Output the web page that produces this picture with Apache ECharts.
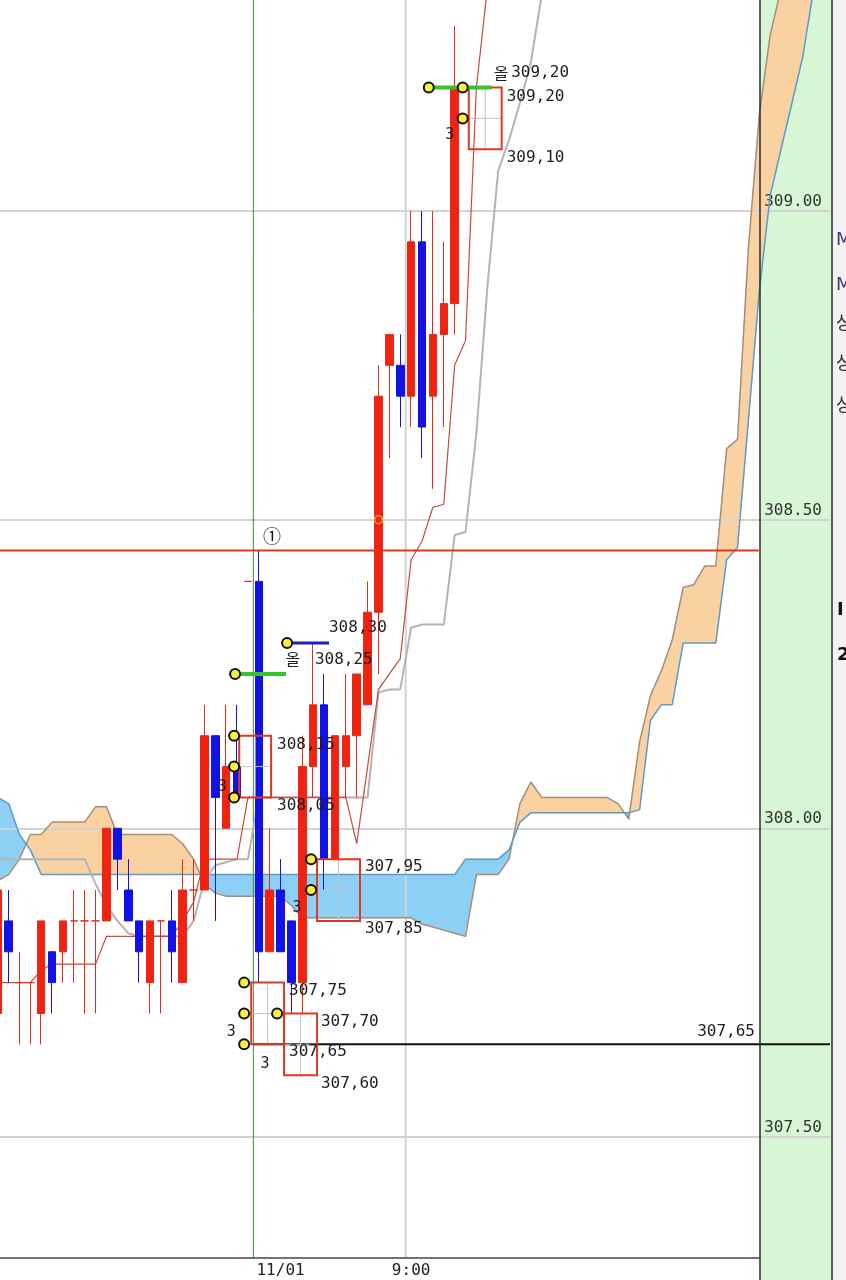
<!DOCTYPE html>
<html>
<head>
<meta charset="utf-8">
<script src="https://cdn.jsdelivr.net/npm/echarts@6/dist/echarts.min.js"></script>
<style>html,body{margin:0;padding:0;background:#fff;overflow:hidden}#c{position:absolute;left:-8px;top:0;width:854px;height:1280px}</style>
</head>
<body>
<div id="c"></div>
<script>
// ---------- DATA ----------
const candleOpen  = [307.70,307.85,307.75,307.75,307.70,307.80,307.80,307.85,307.85,307.85,307.85,308.00,307.90,307.85,307.75,307.85,307.85,307.75,307.90,307.90,308.15,308.00,308.10,308.40,308.40,307.80,307.90,307.85,307.75,308.10,308.20,307.95,308.10,308.15,308.20,308.35,308.75,308.75,308.70,308.95,308.70,308.80,308.85];
const candleClose = [307.90,307.80,307.75,307.75,307.85,307.75,307.85,307.85,307.85,307.85,308.00,307.95,307.85,307.80,307.85,307.85,307.80,307.90,307.90,308.15,308.05,308.10,308.05,308.40,307.80,307.90,307.80,307.75,308.10,308.20,307.95,308.15,308.15,308.25,308.35,308.70,308.80,308.70,308.95,308.65,308.80,308.85,309.20];
const candleLow   = [307.70,307.75,307.65,307.65,307.65,307.70,307.75,307.75,307.70,307.70,307.85,307.90,307.85,307.75,307.70,307.70,307.75,307.75,307.85,307.90,307.85,308.00,308.05,308.40,307.75,307.80,307.80,307.70,307.70,308.05,307.90,307.95,308.05,308.05,308.20,308.25,308.60,308.65,308.65,308.60,308.55,308.65,308.80];
const candleHigh  = [307.90,307.90,307.80,307.75,307.85,307.80,307.85,307.90,307.90,307.90,308.00,308.00,307.95,307.85,307.85,307.85,307.90,307.95,307.95,308.20,308.15,308.20,308.20,308.40,308.45,308.00,307.95,307.85,308.15,308.30,308.25,308.15,308.25,308.25,308.40,308.75,308.80,308.80,309.00,309.00,309.00,308.95,309.30];

const tenkan = [307.75,307.75,307.75,307.75,307.77,307.78,307.78,307.78,307.78,307.78,307.825,307.825,307.825,307.825,307.825,307.825,307.825,307.85,307.88,307.95,307.95,307.95,307.95,308.05,308.05,308.05,308.05,308.05,308.05,308.05,308.05,308.05,308.05,307.975,308.10,308.225,308.25,308.275,308.435,308.465,308.52,308.525,308.75,308.79,309.20,309.36];
const kijun = [307.95,307.95,307.95,307.95,307.95,307.95,307.95,307.95,307.95,307.91,307.875,307.85,307.83,307.825,307.825,307.825,307.825,307.825,307.85,307.915,307.94,307.945,307.95,307.95,308.05,308.05,308.05,308.05,308.05,308.05,308.05,308.05,308.05,308.05,308.05,308.22,308.225,308.225,308.325,308.33,308.33,308.33,308.475,308.48,308.64,308.875,309.065,309.115,309.175,309.24,309.35];

const spanA = [307.915,307.925,307.95,307.99,307.99,308.01,308.01,308.01,308.01,308.035,308.035,307.99,307.99,307.99,307.99,307.99,307.99,307.975,307.95,307.91,307.895,307.89,307.89,307.89,307.89,307.89,307.89,307.875,307.855,307.855,307.855,307.855,307.855,307.855,307.855,307.855,307.855,307.855,307.855,307.845,307.84,307.835,307.83,307.825,307.925,307.925,307.925,307.95,308.04,308.075,308.05,308.05,308.05,308.05,308.05,308.05,308.05,308.04,308.015,308.14,308.215,308.255,308.305,308.39,308.395,308.425,308.425,308.615,308.63,308.94,309.155,309.285,309.36,309.41,309.45,309.50,309.55];
const spanB = [308.05,308.04,307.99,307.965,307.925,307.925,307.925,307.925,307.925,307.925,307.925,307.925,307.925,307.925,307.925,307.925,307.925,307.925,307.925,307.925,307.925,307.925,307.925,307.925,307.925,307.925,307.925,307.925,307.925,307.925,307.925,307.925,307.925,307.925,307.925,307.925,307.925,307.925,307.925,307.925,307.925,307.925,307.925,307.95,307.95,307.95,307.95,307.965,308.01,308.025,308.025,308.025,308.025,308.025,308.025,308.025,308.025,308.025,308.025,308.03,308.175,308.20,308.20,308.30,308.30,308.30,308.30,308.435,308.455,308.66,308.87,309.025,309.10,309.175,309.25,309.36,309.41];

const xTickLabels = ['11/01', '9:00'];
const xTickIndex  = [26, 38];

// ---------- ANNOTATIONS (data units: category index, price) ----------
const resistanceLevel = 308.45;
const supportLevel = 307.65;
const sessionBreaks = [23.5, 37.5];
const boxes = [[22.2,25.13,308.15,308.05],[29.35,33.3,307.95,307.85],[23.3,26.32,307.75,307.65],[26.32,29.35,307.70,307.60],[43.3,46.32,309.20,309.10]];
const markers = [[21.73,308.15],[21.73,308.10],[21.73,308.05],[21.82,308.25],[26.6,308.30],[28.8,307.95],[28.8,307.90],[22.65,307.75],[22.65,307.70],[22.65,307.65],[25.68,307.70],[39.62,309.20],[42.74,309.20],[42.74,309.15]];
const greenSegs = [[21.82,26.5,308.25],[39.4,45.4,309.20]];
const blueSegs = [[26.6,30.45,308.30]];
const priceTexts = [[30.45,308.3245,'308,30'],[29.16,308.2726,'308,25'],[25.68,308.135,'308,15'],[25.68,308.036,'308,05'],[33.75,307.937,'307,95'],[33.75,307.837,'307,85'],[26.78,307.736,'307,75'],[29.71,307.686,'307,70'],[26.78,307.638,'307,65'],[29.71,307.586,'307,60'],[46.78,309.185,'309,20'],[46.78,309.086,'309,10'],[47.2,309.224,'309,20']];
const countTexts = [[20.63,308.067,'3'],[27.51,307.871,'3'],[21.46,307.670,'3'],[24.58,307.618,'3'],[41.55,309.123,'3']];

// ---------- BUILD ----------
const OFF = 8; // chart container is shifted 8px left so the first candle is cut at the edge
const N = 77;
const yMin = 307.3039, yMax = 309.3418;
const categories = Array.from({length: N}, (_, i) => 'c' + i);
const candleData = categories.map((_, i) => i < candleOpen.length ? [candleOpen[i], candleClose[i], candleLow[i], candleHigh[i]] : '-');
const pad = arr => categories.map((_, i) => i < arr.length ? arr[i] : null);
const cloudData = [];
for (let i = 0; i < N - 1; i++) cloudData.push([i, spanA[i], spanB[i], spanA[i+1], spanB[i+1]]);

const ORANGE = '#fad2a2', BLUE = '#8dd0f6';
const MONO = '"DejaVu Sans Mono", monospace';

function renderCloud(params, api) {
  const i = api.value(0), a0 = api.value(1), b0 = api.value(2), a1 = api.value(3), b1 = api.value(4);
  const p = (x, y) => api.coord([x, y]);
  const d0 = a0 - b0, d1 = a1 - b1;
  const ch = [];
  const poly = (pts, c) => ch.push({type: 'polygon', shape: {points: pts}, style: {fill: c, stroke: c, lineWidth: 0.6}});
  if (d0 * d1 >= 0) {
    poly([p(i, a0), p(i + 1, a1), p(i + 1, b1), p(i, b0)], (d0 + d1) >= 0 ? ORANGE : BLUE);
  } else {
    const t = d0 / (d0 - d1);
    const xm = i + t, ym = a0 + (a1 - a0) * t;
    poly([p(i, a0), p(xm, ym), p(i, b0)], d0 > 0 ? ORANGE : BLUE);
    poly([p(xm, ym), p(i + 1, a1), p(i + 1, b1)], d1 > 0 ? ORANGE : BLUE);
  }
  return {type: 'group', children: ch};
}

function renderGuides(params, api) {
  const ch = [];
  sessionBreaks.forEach((x, k) => {
    const a = api.coord([x, yMax]), b = api.coord([x, yMin]);
    ch.push({type: 'line', shape: {x1: a[0], y1: a[1], x2: b[0], y2: b[1]},
      style: {stroke: k === 0 ? '#3d8a3d' : '#d2d2d2', lineWidth: k === 0 ? 1 : 2}});
  });
  return {type: 'group', children: ch};
}

function renderAnno(params, api) {
  const ch = [];
  const line = (x1, x2, v, stroke, w) => {
    const a = api.coord([x1, v]), b = api.coord([x2, v]);
    ch.push({type: 'line', shape: {x1: a[0], y1: a[1], x2: b[0], y2: b[1]}, style: {stroke, lineWidth: w}});
  };
  line(-0.5, 69.95, resistanceLevel, '#e8321e', 2);
  line(sessionBreaks[0], 76.5, supportLevel, '#111', 2);
  boxes.forEach(([x0, x1, top, bot]) => {
    const a = api.coord([x0, top]), b = api.coord([x1, bot]);
    const mx = (a[0] + b[0]) / 2, my = (a[1] + b[1]) / 2;
    ch.push({type: 'line', shape: {x1: a[0], y1: my, x2: b[0], y2: my}, style: {stroke: '#c4c4c4', lineWidth: 1}});
    ch.push({type: 'line', shape: {x1: mx, y1: a[1], x2: mx, y2: b[1]}, style: {stroke: '#c4c4c4', lineWidth: 1}});
    ch.push({type: 'rect', shape: {x: a[0], y: a[1], width: b[0] - a[0], height: b[1] - a[1]}, style: {fill: null, stroke: '#d93a26', lineWidth: 2}});
  });
  greenSegs.forEach(([x0, x1, v]) => line(x0, x1, v, '#38c428', 4));
  blueSegs.forEach(([x0, x1, v]) => line(x0, x1, v, '#1c1cc8', 3));
  markers.forEach(([x, v]) => {
    const c = api.coord([x, v]);
    ch.push({type: 'circle', shape: {cx: c[0], cy: c[1], r: 5}, style: {fill: '#f8f040', stroke: '#111', lineWidth: 2}});
  });
  const oc = api.coord([35, 308.50]);
  ch.push({type: 'circle', shape: {cx: oc[0], cy: oc[1], r: 4}, style: {fill: null, stroke: '#f5a623', lineWidth: 1.5}});
  priceTexts.forEach(([x, v, t]) => {
    const c = api.coord([x, v]);
    ch.push({type: 'text', x: c[0], y: c[1], style: {text: t, font: '16px ' + MONO, fill: '#1e1e1e', align: 'left', verticalAlign: 'middle'}});
  });
  countTexts.forEach(([x, v, t]) => {
    const c = api.coord([x, v]);
    ch.push({type: 'text', x: c[0], y: c[1], style: {text: t, font: '15px ' + MONO, fill: '#1e1e1e', align: 'center', verticalAlign: 'middle'}});
  });
  const k1 = api.coord([45.6, 309.224]);
  ch.push({type: 'text', x: k1[0], y: k1[1], style: {text: '올', font: '16px "Noto Sans CJK KR"', fill: '#1e1e1e', align: 'left', verticalAlign: 'middle'}});
  const k2 = api.coord([27.14, 308.274]);
  ch.push({type: 'text', x: k2[0], y: k2[1], style: {text: '올', font: '16px "Noto Sans CJK KR"', fill: '#1e1e1e', align: 'center', verticalAlign: 'middle'}});
  const c1 = api.coord([25.22, 308.4735]);
  ch.push({type: 'text', x: c1[0], y: c1[1], style: {text: '①', font: '18px "Noto Sans CJK KR"', fill: '#111', align: 'center', verticalAlign: 'middle'}});
  const sl = api.coord([69.6, 307.67]);
  ch.push({type: 'text', x: sl[0], y: sl[1], style: {text: '307,65', font: '16px ' + MONO, fill: '#1e1e1e', align: 'right', verticalAlign: 'middle'}});
  return {type: 'group', children: ch};
}

const chart = echarts.init(document.getElementById('c'));
chart.setOption({
  animation: false,
  backgroundColor: '#ffffff',
  grid: {left: 0.26, right: 16, top: 0, bottom: 22, containLabel: false},
  xAxis: [{
    type: 'category', data: categories, boundaryGap: true,
    axisLine: {show: false}, axisTick: {show: false}, splitLine: {show: false},
    axisLabel: {interval: 0, margin: 5, fontSize: 16, fontFamily: 'DejaVu Sans Mono', color: '#222',
      formatter: (v, idx) => { const j = xTickIndex.indexOf(idx); return j < 0 ? '' : xTickLabels[j]; }}
  }, {
    type: 'value', min: -0.5, max: N - 0.5, show: false
  }],
  yAxis: [{
    type: 'value', position: 'right', min: yMin, max: yMax, scale: true, z: 2,
    axisLine: {show: false}, axisTick: {show: false},
    splitLine: {show: true, showMinLine: false, showMaxLine: false, lineStyle: {color: '#d3d3d3', width: 2}},
    axisLabel: {inside: true, margin: 8, showMinLabel: false, showMaxLabel: false, fontSize: 16, fontFamily: 'DejaVu Sans Mono',
      color: '#333', verticalAlign: 'bottom', padding: [0, 0, 1, 0], formatter: v => v.toFixed(2)}
  }],
  graphic: [
    {type: 'rect', z: -1, silent: true, shape: {x: 760 + OFF, y: 0, width: 72, height: 1280}, style: {fill: '#d6f6d6'}},
    {type: 'rect', z: -1, silent: true, shape: {x: 832 + OFF, y: 0, width: 14, height: 1280}, style: {fill: '#f2f2f2'}},
    {type: 'line', z: 100, silent: true, shape: {x1: 760 + OFF, y1: 0, x2: 760 + OFF, y2: 1280}, style: {stroke: '#2a2a2a', lineWidth: 1.5}},
    {type: 'line', z: 100, silent: true, shape: {x1: 832 + OFF, y1: 0, x2: 832 + OFF, y2: 1280}, style: {stroke: '#2a2a2a', lineWidth: 1.5}},
    {type: 'line', z: 100, silent: true, shape: {x1: 0, y1: 1258, x2: 760 + OFF, y2: 1258}, style: {stroke: '#444', lineWidth: 1.5}},
    {type: 'text', z: 100, x: 836 + OFF, y: 240, style: {text: 'M', font: '18px "DejaVu Sans"', fill: '#3a3a78', verticalAlign: 'middle'}},
    {type: 'text', z: 100, x: 836 + OFF, y: 285, style: {text: 'M', font: '18px "DejaVu Sans"', fill: '#3a3a78', verticalAlign: 'middle'}},
    {type: 'text', z: 100, x: 836 + OFF, y: 322, style: {text: '상', font: '18px "Noto Sans CJK KR"', fill: '#333', verticalAlign: 'middle'}},
    {type: 'text', z: 100, x: 836 + OFF, y: 362, style: {text: '상', font: '18px "Noto Sans CJK KR"', fill: '#333', verticalAlign: 'middle'}},
    {type: 'text', z: 100, x: 836 + OFF, y: 404, style: {text: '상', font: '18px "Noto Sans CJK KR"', fill: '#333', verticalAlign: 'middle'}},
    {type: 'text', z: 100, x: 837 + OFF, y: 610, style: {text: 'I', font: 'bold 18px "DejaVu Sans"', fill: '#111', verticalAlign: 'middle'}},
    {type: 'text', z: 100, x: 837 + OFF, y: 655, style: {text: '2', font: 'bold 18px "DejaVu Sans"', fill: '#111', verticalAlign: 'middle'}}
  ],
  series: [
    {type: 'custom', name: 'cloud', xAxisIndex: 1, yAxisIndex: 0, z: 1, clip: true,
      data: cloudData, encode: {x: 0, y: [1, 2]}, renderItem: renderCloud, silent: true},
    {type: 'custom', name: 'guides', xAxisIndex: 1, yAxisIndex: 0, z: 2,
      data: [[0, 308]], encode: {x: 0, y: 1}, renderItem: renderGuides, silent: true},
    {type: 'line', name: 'spanA', xAxisIndex: 0, z: 3, data: pad(spanA), symbol: 'none',
      lineStyle: {color: '#a48f7a', width: 1.5}},
    {type: 'line', name: 'spanB', xAxisIndex: 0, z: 3, data: pad(spanB), symbol: 'none',
      lineStyle: {color: '#5b9bcc', width: 1.5}},
    {type: 'line', name: 'kijun', xAxisIndex: 0, z: 3, data: pad(kijun), symbol: 'none',
      lineStyle: {color: '#b4b4b4', width: 2}},
    {type: 'line', name: 'tenkan', xAxisIndex: 0, z: 3, data: pad(tenkan), symbol: 'none',
      lineStyle: {color: '#c84a3c', width: 1.2}},
    {type: 'candlestick', name: 'price', xAxisIndex: 0, z: 4, data: candleData, barWidth: 8,
      itemStyle: {color: '#f2220e', color0: '#1212e6', borderColor: '#e42a1a', borderColor0: '#1212e6', borderColorDoji: '#e42a1a', borderWidth: 1}},
    {type: 'custom', name: 'annotations', xAxisIndex: 1, yAxisIndex: 0, z: 6,
      data: [[0, 308]], encode: {x: 0, y: 1}, renderItem: renderAnno, silent: true}
  ]
});
</script>
</body>
</html>
